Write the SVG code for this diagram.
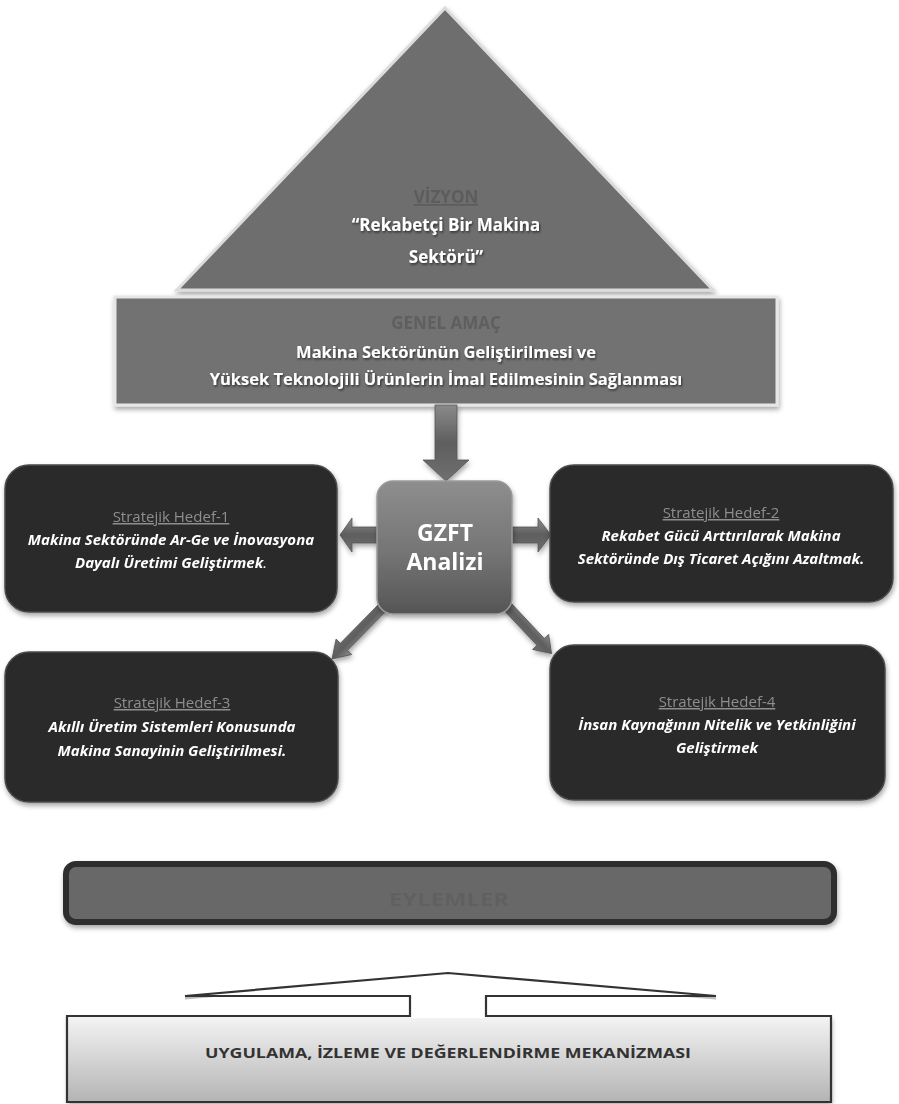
<svg xmlns="http://www.w3.org/2000/svg" width="899" height="1104" viewBox="0 0 899 1104">
<defs>
<style>
.w{font-family:"Open Sans","Liberation Sans",sans-serif;font-weight:bold;fill:#ffffff;text-anchor:middle}
.faint{font-family:"Open Sans","Liberation Sans",sans-serif;font-weight:bold;text-anchor:middle}
.lbl{font-family:"Open Sans","Liberation Sans",sans-serif;font-size:15px;fill:#8e8e8e;text-anchor:middle;text-decoration:underline}
.goal{font-family:"Open Sans","Liberation Sans",sans-serif;font-size:15px;font-weight:bold;font-style:italic;fill:#ffffff;text-anchor:middle}
.hedef{fill:#2c2c2c;stroke:#4a4a4a;stroke-width:1.5}
.arr{fill:url(#ag);stroke:#555;stroke-width:0.8}
</style>
<linearGradient id="ag" x1="0" y1="0" x2="0" y2="1">
<stop offset="0" stop-color="#8a8a8a"/><stop offset="0.5" stop-color="#5e5e5e"/><stop offset="1" stop-color="#707070"/>
</linearGradient>
<linearGradient id="gz" x1="0" y1="0" x2="0" y2="1">
<stop offset="0" stop-color="#8e8e8e"/><stop offset="0.55" stop-color="#747474"/><stop offset="1" stop-color="#555555"/>
</linearGradient>
<linearGradient id="bx" x1="0" y1="0" x2="0" y2="1">
<stop offset="0" stop-color="#f4f4f4"/><stop offset="1" stop-color="#b4b4b4"/>
</linearGradient>
<filter id="sh" x="-10%" y="-10%" width="120%" height="130%">
<feDropShadow dx="1" dy="3" stdDeviation="2.5" flood-color="#000" flood-opacity="0.35"/>
</filter>
<filter id="ts" x="-5%" y="-30%" width="110%" height="160%">
<feDropShadow dx="1" dy="1.5" stdDeviation="1" flood-color="#000" flood-opacity="0.6"/>
</filter>
<filter id="bl" x="-10%" y="-30%" width="120%" height="160%">
<feGaussianBlur stdDeviation="0.7"/>
</filter>
</defs>
<rect width="899" height="1104" fill="#ffffff"/>

<g id="vizyon">
<polygon points="445,8 713,290 177,290" fill="#6e6e6e" stroke="#dcdcdc" stroke-width="3" filter="url(#sh)"/>
<text class="faint" x="446" y="203" font-size="17" fill="#5c5c5c" text-decoration="underline" filter="url(#bl)">VİZYON</text>
<g filter="url(#ts)">
<text class="w" x="446" y="231" font-size="17">“Rekabetçi Bir Makina</text>
<text class="w" x="446" y="263" font-size="17">Sektörü”</text>
</g>
</g>

<g id="genel-amac">
<rect x="115" y="297" width="662" height="108" fill="#727272" stroke="#e6e6e6" stroke-width="3" filter="url(#sh)"/>
<text class="faint" x="446" y="329" font-size="17" fill="#5e5e5e" filter="url(#bl)">GENEL AMAÇ</text>
<g filter="url(#ts)">
<text class="w" x="446" y="358" font-size="16.5">Makina Sektörünün Geliştirilmesi ve</text>
<text class="w" x="446" y="385" font-size="16.5">Yüksek Teknolojili Ürünlerin İmal Edilmesinin Sağlanması</text>
</g>
</g>

<g id="connectors" filter="url(#sh)">
<polygon class="arr" points="435,405 457,405 457,460 469,460 446,481 423,460 435,460"/>
<polygon class="arr" points="377,527 352,527 352,518 340,535 352,552 352,543 377,543"/>
<polygon class="arr" points="512,527 538,527 538,518 551,535 538,552 538,543 512,543"/>
<polygon class="arr" transform="translate(386,604) rotate(134.5)" points="0,-5 60,-5 60,-11 77,0 60,11 60,5 0,5"/>
<polygon class="arr" transform="translate(505,604) rotate(46.8)" points="0,-5 52,-5 52,-11 68,0 52,11 52,5 0,5"/>
</g>

<g id="gzft">
<rect x="377" y="481" width="135" height="133" rx="16" fill="url(#gz)" stroke="#9a9a9a" stroke-width="1.5" filter="url(#sh)"/>
<text class="w" x="445" y="541" font-size="23">GZFT</text>
<text class="w" x="445" y="570" font-size="23">Analizi</text>
</g>

<g id="hedef-1">
<rect class="hedef" x="5" y="465" width="332" height="147" rx="24" filter="url(#sh)"/>
<text class="lbl" x="171" y="522">Stratejik Hedef-1</text>
<text class="goal" x="171" y="545">Makina Sektöründe Ar-Ge ve İnovasyona</text>
<text class="goal" x="171" y="568">Dayalı Üretimi Geliştirmek<tspan font-weight="normal">.</tspan></text>
</g>

<g id="hedef-2">
<rect class="hedef" x="550" y="465" width="343" height="137" rx="24" filter="url(#sh)"/>
<text class="lbl" x="721" y="518">Stratejik Hedef-2</text>
<text class="goal" x="721" y="541">Rekabet Gücü Arttırılarak Makina</text>
<text class="goal" x="721" y="564">Sektöründe Dış Ticaret Açığını Azaltmak.</text>
</g>

<g id="hedef-3">
<rect class="hedef" x="5" y="652" width="333" height="150" rx="24" filter="url(#sh)"/>
<text class="lbl" x="172" y="708">Stratejik Hedef-3</text>
<text class="goal" x="172" y="732">Akıllı Üretim Sistemleri Konusunda</text>
<text class="goal" x="172" y="756">Makina Sanayinin Geliştirilmesi.</text>
</g>

<g id="hedef-4">
<rect class="hedef" x="550" y="645" width="335" height="155" rx="24" filter="url(#sh)"/>
<text class="lbl" x="717" y="707">Stratejik Hedef-4</text>
<text class="goal" x="717" y="730">İnsan Kaynağının Nitelik ve Yetkinliğini</text>
<text class="goal" x="717" y="753">Geliştirmek</text>
</g>

<g id="eylemler">
<rect x="66" y="864" width="768" height="58" rx="10" fill="#686868" stroke="#2e2e2e" stroke-width="6" filter="url(#sh)"/>
<text class="faint" x="449" y="906" font-size="18" fill="#616161" textLength="120" lengthAdjust="spacingAndGlyphs" filter="url(#bl)">EYLEMLER</text>
</g>

<g id="uygulama">
<rect x="67" y="1016" width="764" height="86" fill="url(#bx)" filter="url(#sh)"/>
<path d="M185,998 L448,975 L716,998" fill="none" stroke="#bdbdbd" stroke-width="3"/>
<path d="M410,1018 L410,996 L185,996 L448,973 L716,996 L486,996 L486,1018 Z" fill="#ffffff" stroke="none"/>
<path d="M67,1016 L410,1016 L410,996 L185,996 L448,973 L716,996 L486,996 L486,1016 L831,1016 L831,1102 L67,1102 Z" fill="none" stroke="#333333" stroke-width="2.2" stroke-linejoin="miter"/>
<text x="448" y="1058" font-family="'Open Sans','Liberation Sans',sans-serif" font-size="15" font-weight="bold" fill="#333333" text-anchor="middle" textLength="486" lengthAdjust="spacingAndGlyphs">UYGULAMA, İZLEME VE DEĞERLENDİRME MEKANİZMASI</text>
</g>
</svg>
